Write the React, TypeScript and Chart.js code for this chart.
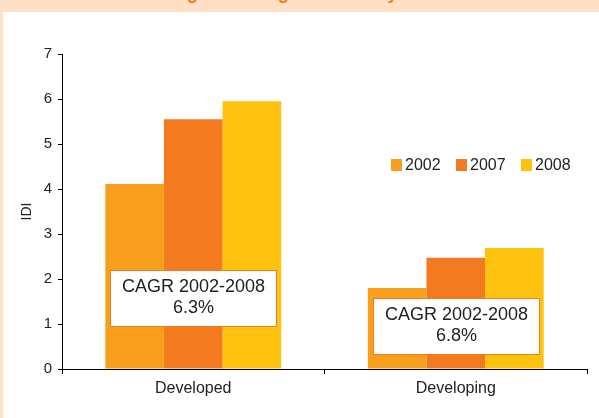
import React, { useEffect, useRef } from "react";
import { Chart, registerables } from "chart.js";

Chart.register(...registerables);

const categories = ["Developed", "Developing"];
const seriesLabels = ["2002", "2007", "2008"];
const values2002 = [4.11, 1.8];
const values2007 = [5.55, 2.47];
const values2008 = [5.95, 2.69];
const seriesColors = ["#F8A01E", "#F47A20", "#FEC20F"];
const yTicks = [0, 1, 2, 3, 4, 5, 6, 7];
const annotationLines = [
  ["CAGR 2002-2008", "6.3%"],
  ["CAGR 2002-2008", "6.8%"],
];
const annotationTopValues = [2.2, 1.58];

const FONT = "'Liberation Sans', Arial, Helvetica, sans-serif";
const TEXT = "#222222";

const overlayPlugin = {
  id: "overlay",
  afterDatasetsDraw(chart: any) {
    const ctx = chart.ctx;
    const x = chart.scales.x;
    const y = chart.scales.y;
    ctx.save();
    // annotation boxes
    annotationLines.forEach((lines, i) => {
      const cx = x.getPixelForValue(i);
      const top = Math.round(y.getPixelForValue(annotationTopValues[i])) + 0.5;
      const w = 166;
      const h = 56;
      const left = Math.round(cx - w / 2) + 0.5;
      ctx.fillStyle = "#ffffff";
      ctx.fillRect(left, top, w, h);
      ctx.strokeStyle = "#F47A20";
      ctx.lineWidth = 1;
      ctx.strokeRect(left, top, w, h);
      ctx.fillStyle = TEXT;
      ctx.font = `18px ${FONT}`;
      ctx.textAlign = "center";
      ctx.textBaseline = "middle";
      ctx.fillText(lines[0], left + w / 2, top + 17);
      ctx.fillText(lines[1], left + w / 2, top + 38);
    });
    // legend
    const lx0 = 388;
    const ly = 147;
    chart.data.datasets.forEach((ds: any, i: number) => {
      const lx = lx0 + i * 65;
      ctx.fillStyle = ds.backgroundColor;
      ctx.fillRect(lx, ly, 11, 12);
      ctx.fillStyle = TEXT;
      ctx.font = `16px ${FONT}`;
      ctx.textAlign = "left";
      ctx.textBaseline = "middle";
      ctx.fillText(ds.label, lx + 14, ly + 6.5);
    });
    ctx.restore();
  },
};

export default function App() {
  const ref = useRef<HTMLCanvasElement | null>(null);

  useEffect(() => {
    if (!ref.current) return;
    const seriesValues = [values2002, values2007, values2008];
    const chart = new Chart(ref.current, {
      type: "bar",
      data: {
        labels: categories,
        datasets: seriesLabels.map((label, i) => ({
          label,
          data: seriesValues[i],
          backgroundColor: seriesColors[i],
          borderWidth: 0,
          categoryPercentage: 0.67,
          barPercentage: 1.0,
        })),
      },
      options: {
        responsive: false,
        animation: false,
        events: [],
        layout: { padding: { top: 42, right: 12, left: 0, bottom: 0 } },
        plugins: {
          legend: { display: false },
          tooltip: { enabled: false },
          title: { display: false },
        },
        scales: {
          x: {
            grid: {
              display: true,
              drawOnChartArea: false,
              drawTicks: true,
              tickLength: 5,
              color: "#000000",
              offset: true,
            },
            border: { display: true, color: "#000000", width: 1 },
            ticks: {
              font: { family: FONT, size: 16 },
              color: TEXT,
              padding: 5,
              maxRotation: 0,
            },
            afterFit: (s: any) => {
              s.height = 49;
            },
          },
          y: {
            min: 0,
            max: 7,
            afterBuildTicks: (s: any) => {
              s.ticks = yTicks.map((v) => ({ value: v }));
            },
            grid: {
              display: true,
              drawOnChartArea: false,
              drawTicks: true,
              tickLength: 4,
              color: "#000000",
            },
            border: { display: true, color: "#000000", width: 1 },
            ticks: {
              font: { family: FONT, size: 15 },
              color: TEXT,
              padding: 6,
            },
            title: {
              display: true,
              text: "IDI",
              font: { family: FONT, size: 14 },
              color: TEXT,
              padding: { top: 16, bottom: 0 },
            },
            afterFit: (s: any) => {
              s.width = 59;
            },
          },
        },
      },
      plugins: [overlayPlugin],
    });
    return () => chart.destroy();
  }, []);

  const glyph = (left: number, ch: string) => (
    <span
      style={{
        position: "absolute",
        left,
        top: -16,
        fontFamily: FONT,
        fontWeight: "bold",
        fontStyle: "italic",
        fontSize: 18,
        lineHeight: "18px",
        color: "#F47A20",
      }}
    >
      {ch}
    </span>
  );

  return (
    <div
      style={{
        position: "absolute",
        left: 0,
        top: 0,
        width: 599,
        height: 418,
        background: "#FFE0C7",
        overflow: "hidden",
      }}
    >
      <div
        style={{
          position: "absolute",
          left: 0,
          top: 0,
          width: 599,
          height: 12,
          overflow: "hidden",
        }}
      >
        {glyph(188, "g")}
        {glyph(279, "g")}
        {glyph(389, "y")}
      </div>
      <div
        style={{
          position: "absolute",
          left: 3,
          top: 12,
          width: 596,
          height: 406,
          background: "#ffffff",
        }}
      >
        <canvas ref={ref} width={596} height={406} style={{ display: "block" }} />
      </div>
    </div>
  );
}
